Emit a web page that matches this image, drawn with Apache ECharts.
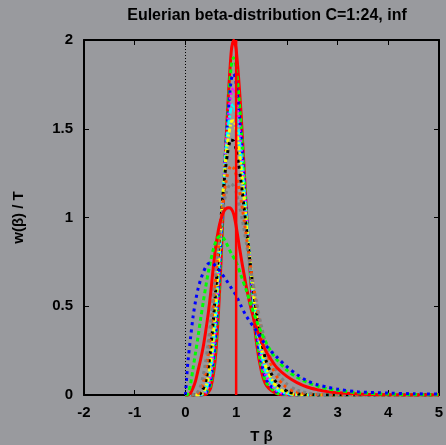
<!DOCTYPE html>
<html><head><meta charset="utf-8">
<script src="https://cdn.jsdelivr.net/npm/echarts@6/dist/echarts.min.js"></script>
<style>html,body{margin:0;padding:0;background:#999a9e;overflow:hidden;}#c{width:446px;height:445px;}</style>
</head><body><div id="c"></div>
<script>
// ---- data ----
const xTicks = [-2, -1, 0, 1, 2, 3, 4, 5];
const yTicks = [0, 0.5, 1, 1.5, 2];

// C = 1 (blue dotted)
const c1X = [0, 0.025, 0.05, 0.1, 0.15, 0.2, 0.25, 0.3, 0.35, 0.4, 0.45, 0.5, 0.55, 0.6, 0.7, 0.8, 0.9, 1.0, 1.1, 1.2, 1.4, 1.6, 1.8, 2.0, 2.2, 2.4, 2.6, 2.8, 3.0, 3.4, 4.0, 4.5, 5.0];
const c1Y = [0, 0.1, 0.19, 0.32, 0.44, 0.53, 0.6, 0.65, 0.69, 0.72, 0.74, 0.745, 0.74, 0.725, 0.69, 0.65, 0.605, 0.56, 0.5, 0.445, 0.36, 0.275, 0.215, 0.16, 0.115, 0.08, 0.058, 0.044, 0.033, 0.018, 0.011, 0.007, 0.005];

// C = 2 (green dotted)
const c2X = [0, 0.05, 0.1, 0.15, 0.2, 0.25, 0.3, 0.35, 0.4, 0.45, 0.5, 0.55, 0.6, 0.65, 0.7, 0.75, 0.8, 0.9, 1.0, 1.1, 1.2, 1.3, 1.4, 1.5, 1.6, 1.7, 1.8, 2.0, 2.2, 2.4, 2.6, 2.8, 3.0, 3.4, 4.0, 5.0];
const c2Y = [0, 0.005, 0.06, 0.15, 0.24, 0.33, 0.43, 0.52, 0.61, 0.69, 0.76, 0.82, 0.865, 0.89, 0.895, 0.885, 0.86, 0.8, 0.75, 0.67, 0.59, 0.5, 0.42, 0.35, 0.29, 0.24, 0.2, 0.14, 0.1, 0.072, 0.05, 0.036, 0.026, 0.013, 0.005, 0.001];

// C = 3 (red solid)
const c3X = [0, 0.05, 0.1, 0.15, 0.2, 0.25, 0.3, 0.35, 0.4, 0.45, 0.5, 0.55, 0.6, 0.65, 0.7, 0.75, 0.8, 0.85, 0.9, 0.95, 1.0, 1.05, 1.1, 1.15, 1.2, 1.3, 1.4, 1.5, 1.6, 1.7, 1.8, 2.0, 2.2, 2.4, 2.6, 2.8, 3.0, 3.5, 4.0, 5.0];
const c3Y = [0, 0, 0.01, 0.04, 0.08, 0.14, 0.2, 0.27, 0.36, 0.46, 0.58, 0.72, 0.84, 0.93, 0.99, 1.03, 1.05, 1.055, 1.05, 1.02, 0.95, 0.86, 0.77, 0.69, 0.61, 0.48, 0.38, 0.3, 0.24, 0.195, 0.155, 0.105, 0.07, 0.045, 0.03, 0.019, 0.012, 0.004, 0.001, 0];

// narrow bundle of larger C, shared x positions
const bX = [0, 0.2, 0.3, 0.4, 0.5, 0.6, 0.7, 0.8, 0.9, 0.95, 1.0, 1.1, 1.2, 1.3, 1.4, 1.5, 1.6, 1.8, 2.0, 2.2, 2.5, 3.0, 5.0];
const bGray    = [0, 0.006, 0.053, 0.19, 0.42, 0.71, 0.965, 1.134, 1.19, 1.178, 1.141, 1.019, 0.857, 0.685, 0.525, 0.387, 0.277, 0.135, 0.062, 0.028, 0.008, 0.001, 0];
const bOrange  = [0, 0.002, 0.029, 0.134, 0.358, 0.67, 0.981, 1.203, 1.29, 1.279, 1.24, 1.093, 0.897, 0.693, 0.509, 0.357, 0.241, 0.105, 0.042, 0.016, 0.004, 0, 0];
const bBlack   = [0, 0, 0.01, 0.075, 0.265, 0.598, 0.988, 1.299, 1.437, 1.431, 1.384, 1.194, 0.941, 0.685, 0.468, 0.301, 0.185, 0.066, 0.022, 0.007, 0.001, 0, 0];
const bYellow  = [0, 0, 0.004, 0.043, 0.195, 0.519, 0.957, 1.346, 1.539, 1.545, 1.497, 1.274, 0.975, 0.679, 0.439, 0.264, 0.15, 0.046, 0.013, 0.003, 0, 0, 0];
const bCyan    = [0, 0, 0.002, 0.027, 0.152, 0.465, 0.933, 1.381, 1.624, 1.637, 1.584, 1.333, 0.994, 0.669, 0.411, 0.235, 0.125, 0.034, 0.008, 0.002, 0, 0, 0];
const bMagenta = [0, 0, 0, 0.017, 0.116, 0.408, 0.9, 1.41, 1.703, 1.729, 1.676, 1.396, 1.012, 0.655, 0.384, 0.207, 0.103, 0.025, 0.005, 0.001, 0, 0, 0];
const bBlue    = [0, 0, 0, 0.01, 0.085, 0.35, 0.853, 1.421, 1.772, 1.81, 1.758, 1.447, 1.024, 0.638, 0.355, 0.18, 0.084, 0.018, 0.003, 0, 0, 0, 0];
const bGreen   = [0, 0, 0, 0.006, 0.061, 0.296, 0.802, 1.427, 1.847, 1.9, 1.847, 1.509, 1.039, 0.621, 0.329, 0.157, 0.068, 0.012, 0.002, 0, 0, 0, 0];
const bRed     = [0, 0, 0, 0.003, 0.041, 0.239, 0.74, 1.428, 1.925, 1.999, 1.948, 1.572, 1.049, 0.598, 0.298, 0.132, 0.053, 0.008, 0.001, 0, 0, 0, 0];

// C = inf : delta at T beta = 1
const infX = [1, 1];
const infY = [0, 2];

function pairs(xs, ys) { return xs.map((x, i) => [x, ys[i]]); }

const chart = echarts.init(document.getElementById('c'), null, {renderer: 'canvas'});
const FONT = 'Liberation Sans';

function line(name, xs, ys, color, dash, width) {
  return {
    name: name, type: 'line', data: pairs(xs, ys), symbol: 'none', smooth: 0.3,
    lineStyle: {color: color, width: width || 3, type: dash || 'solid', cap: 'butt'},
    z: 2
  };
}

const series = [
  line('C24', bX, bRed, '#ff0000', 'solid'),
  line('C20', bX, bGreen, '#00ff00', [4, 3]),
  line('C16', bX, bBlue, '#0000ff', [3, 4]),
  line('C12', bX, bMagenta, '#ff00ff', [2, 3]),
  line('C10', bX, bCyan, '#00ffff', [6, 2, 2, 2]),
  line('C8', bX, bYellow, '#ffff00', [4, 2, 2, 2]),
  line('C6', bX, bBlack, '#000000', [3, 3, 3, 5]),
  line('C5', bX, bOrange, '#ff4d00', [3, 3, 3, 3, 3, 5]),
  line('C4', bX, bGray, '#808080', [3, 3, 3, 3, 3, 3, 3, 5]),
  line('C3', c3X, c3Y, '#ff0000', 'solid'),
  line('C2', c2X, c2Y, '#00ff00', [4, 3]),
  line('C1', c1X, c1Y, '#0000ff', [3, 4]),
  Object.assign(line('inf', infX, infY, '#ff0000', 'solid', 2.5), {smooth: false}),
  {
    type: 'line', data: [], symbol: 'none',
    markLine: {silent: true, symbol: 'none', label: {show: false},
      lineStyle: {color: '#000', width: 1, type: [1, 2]}, data: [{xAxis: 0}]},
    z: 1
  }
];

const lbl = {color: '#000', fontWeight: 'bold', fontSize: 15, fontFamily: FONT};

chart.setOption({
  animation: false,
  backgroundColor: '#999a9e',
  title: {
    text: 'Eulerian beta-distribution C=1:24, inf',
    left: 262, top: 3, textAlign: 'center',
    textStyle: {color: '#000', fontWeight: 'bold', fontSize: 16, fontFamily: FONT}
  },
  grid: {left: 84, right: 7, top: 40, bottom: 50, show: false, containLabel: false, outerBoundsMode: 'none'},
  xAxis: [
    {type: 'value', min: xTicks[0], max: xTicks[xTicks.length - 1], interval: 1,
     name: 'T β', nameLocation: 'middle', nameGap: 34,
     nameTextStyle: lbl,
     axisLine: {show: true, onZero: false, lineStyle: {color: '#000', width: 2}},
     axisTick: {show: true, inside: true, length: 5, lineStyle: {color: '#000', width: 1}},
     axisLabel: Object.assign({margin: 10}, lbl),
     splitLine: {show: false}},
    {type: 'value', position: 'top', min: xTicks[0], max: xTicks[xTicks.length - 1], interval: 1,
     axisLine: {show: true, onZero: false, lineStyle: {color: '#000', width: 2}},
     axisTick: {show: true, inside: true, length: 5, lineStyle: {color: '#000', width: 1}},
     axisLabel: {show: false}, splitLine: {show: false}}
  ],
  yAxis: [
    {type: 'value', min: yTicks[0], max: yTicks[yTicks.length - 1], interval: 0.5,
     name: 'w(β) / T', nameLocation: 'middle', nameGap: 58, nameRotate: 90,
     nameTextStyle: lbl,
     axisLine: {show: true, onZero: false, lineStyle: {color: '#000', width: 2}},
     axisTick: {show: true, inside: true, length: 5, lineStyle: {color: '#000', width: 1}},
     axisLabel: Object.assign({margin: 11}, lbl),
     splitLine: {show: false}},
    {type: 'value', position: 'right', min: yTicks[0], max: yTicks[yTicks.length - 1], interval: 0.5,
     axisLine: {show: true, onZero: false, lineStyle: {color: '#000', width: 2}},
     axisTick: {show: true, inside: true, length: 5, lineStyle: {color: '#000', width: 1}},
     axisLabel: {show: false}, splitLine: {show: false}}
  ],
  series: series
});
</script></body></html>
